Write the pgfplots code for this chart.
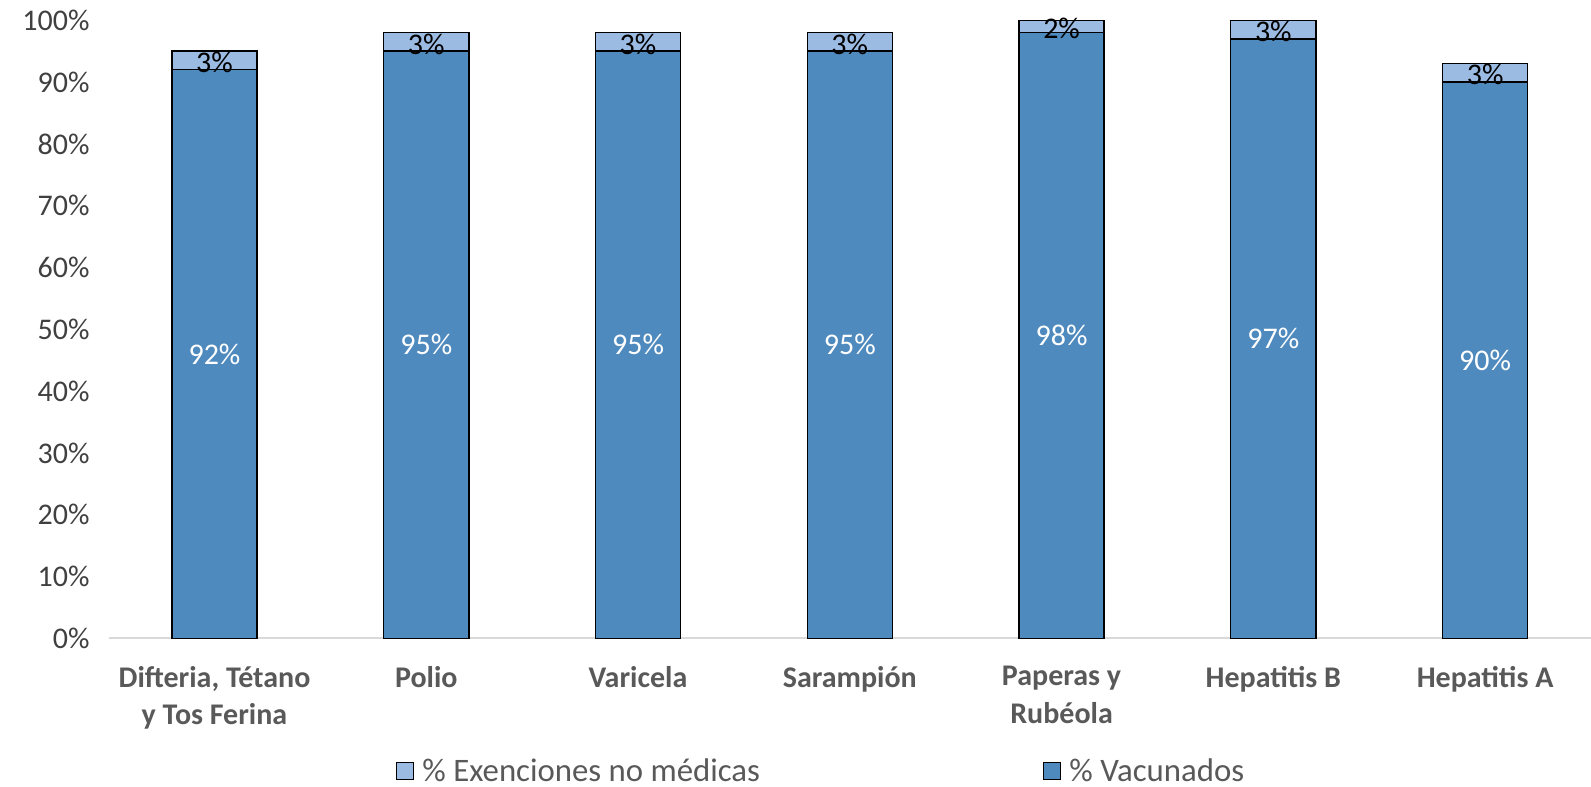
\documentclass[border=0pt]{standalone}
\usepackage{pgfplots}
\pgfplotsset{compat=1.18}
\usepackage{fontspec}
\setmainfont{Carlito}
\definecolor{vacblue}{RGB}{79,138,190}
\definecolor{exlight}{RGB}{155,187,227}
\definecolor{axtext}{RGB}{89,89,89}
\begin{document}
\begin{tikzpicture}
\begin{axis}[
    ybar stacked,
    bar width=42.6pt,
    x=105.886pt, y=3.09pt,
    xmin=-0.5, xmax=6.5,
    ymin=0, ymax=100,
    enlargelimits=false,
    clip=false,
    axis lines*=left,
    x axis line style={draw=black!15, line width=1pt, -},
    y axis line style={draw=none},
    major tick length=0pt,
    ytick={0,10,...,100},
    yticklabel={\pgfmathprintnumber{\tick}\%},
    /pgf/number format/assume math mode=true,
    yticklabel style={font=\fontsize{15}{18}\selectfont, text=black!75, xshift=-6pt},
    xtick=data,
    xticklabels={{Difteria, Tétano\\y Tos Ferina}, Polio, Varicela, Sarampión, {Paperas y\\Rubéola}, Hepatitis B, Hepatitis A},
    xticklabel style={font=\fontsize{15}{18.6}\selectfont\bfseries, text=axtext, align=center, yshift=-10.5pt},
    reverse legend=true,
    legend columns=2,
    legend style={
        at={(rel axis cs:0.4827,-0.215)},
        anchor=center,
        draw=none,
        font=\fontsize{16.4}{19}\selectfont,
        text=axtext,
        /tikz/every even column/.append style={column sep=137.5pt},
        nodes={inner xsep=4pt},
    },
    legend image code/.code={\draw[#1,draw=black,line width=0.6pt] (0pt,-4.3pt) rectangle (8.6pt,4.3pt);},
]
% % Vacunados
\addplot[fill=vacblue, draw=black, line width=0.7pt,
    point meta=explicit symbolic,
    nodes near coords,
    every node near coord/.append style={anchor=center, text=white,
        font=\fontsize{15}{18}\selectfont}]
coordinates {
    (0,92) [92\%]
    (1,95) [95\%]
    (2,95) [95\%]
    (3,95) [95\%]
    (4,98) [98\%]
    (5,97) [97\%]
    (6,90) [90\%]
};
% % Exenciones no medicas
\addplot[fill=exlight, draw=black, line width=0.7pt,
    point meta=explicit symbolic,
    nodes near coords,
    every node near coord/.append style={anchor=center, text=black,
        font=\fontsize{15}{18}\selectfont, yshift=-1pt}]
coordinates {
    (0,3) [3\%]
    (1,3) [3\%]
    (2,3) [3\%]
    (3,3) [3\%]
    (4,2) [2\%]
    (5,3) [3\%]
    (6,3) [3\%]
};
\legend{\% Vacunados, \% Exenciones no médicas}
\end{axis}
\pgfresetboundingbox
\path (-54.3pt,-74pt) rectangle (741.2pt,319.15pt);
\end{tikzpicture}
\end{document}
